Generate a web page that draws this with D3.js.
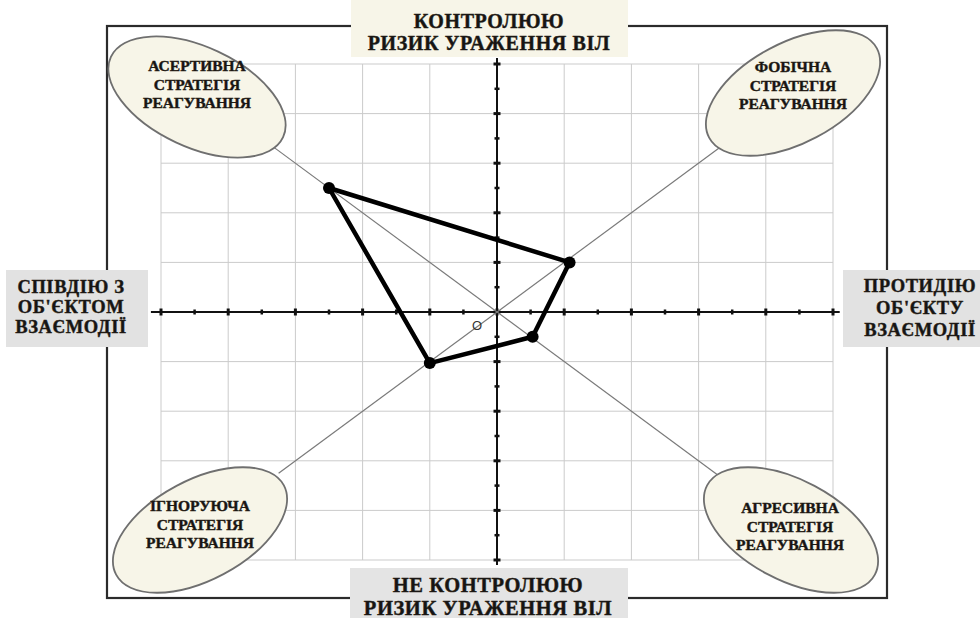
<!DOCTYPE html>
<html lang="uk">
<head>
<meta charset="UTF-8">
<title>Стратегії реагування</title>
<script src="https://cdn.jsdelivr.net/npm/d3@7/dist/d3.min.js"></script>
<style>
  body { margin: 0; background: #fff; }
  text { font-family: "Liberation Serif", "Times New Roman", serif; font-weight: bold; fill: #151515;
         stroke: #2a1f14; stroke-width: 0.45px; }
</style>
</head>
<body>
<svg id="chart" width="980" height="618"></svg>
<script>
// --- data ---
var gridSteps = d3.range(-5, 5.001, 1);          // grid lines (units)
var tickSteps = d3.range(-5, 5.001, 0.5);        // axis ticks
var profile = [                                  // polygon of the respondent
  {x: -2.5, y: 2.5},
  {x: 1.08, y: 1.0},
  {x: 0.53, y: -0.5},
  {x: -1.0, y: -1.03}
];
var diagonals = [                                // thin lines to the strategies
  {x1: -3.4, y1: 3.4, x2: 3.28, y2: -3.28},
  {x1: 3.3, y1: 3.3, x2: -3.25, y2: -3.25}
];
var strategyNames = [
  ["АСЕРТИВНА", "СТРАТЕГІЯ", "РЕАГУВАННЯ"],
  ["ФОБІЧНА", "СТРАТЕГІЯ", "РЕАГУВАННЯ"],
  ["ІГНОРУЮЧА", "СТРАТЕГІЯ", "РЕАГУВАННЯ"],
  ["АГРЕСИВНА", "СТРАТЕГІЯ", "РЕАГУВАННЯ"]
];
var axisTop = ["КОНТРОЛЮЮ", "РИЗИК УРАЖЕННЯ ВІЛ"];
var axisBottom = ["НЕ КОНТРОЛЮЮ", "РИЗИК УРАЖЕННЯ ВІЛ"];
var axisLeft = ["СПІВДІЮ З", "ОБ'ЄКТОМ", "ВЗАЄМОДІЇ"];
var axisRight = ["ПРОТИДІЮ", "ОБ'ЄКТУ", "ВЗАЄМОДІЇ"];

// --- layout ---
var svg = d3.select("#chart");
var x = d3.scaleLinear().domain([-5, 5]).range([161, 833]);
var y = d3.scaleLinear().domain([-5, 5]).range([560, 64]);

// outer frame
svg.append("rect")
  .attr("x", 107).attr("y", 26).attr("width", 780).attr("height", 572)
  .attr("fill", "none").attr("stroke", "#2b2b2b").attr("stroke-width", 2.2);

// grid
var grid = svg.append("g").attr("stroke", "#cbcbcb").attr("stroke-width", 1);
grid.selectAll(".gv").data(gridSteps).enter().append("line")
  .attr("x1", function(d){ return x(d); }).attr("x2", function(d){ return x(d); })
  .attr("y1", y(5)).attr("y2", y(-5));
grid.selectAll(".gh").data(gridSteps).enter().append("line")
  .attr("y1", function(d){ return y(d); }).attr("y2", function(d){ return y(d); })
  .attr("x1", x(-5)).attr("x2", x(5));

// axes
var axes = svg.append("g").attr("stroke", "#111");
axes.append("line").attr("x1", x(-5.15)).attr("x2", x(5.1))
  .attr("y1", y(0)).attr("y2", y(0)).attr("stroke-width", 2);
axes.append("line").attr("y1", y(5.12)).attr("y2", y(-5.1))
  .attr("x1", x(0)).attr("x2", x(0)).attr("stroke-width", 2);
axes.selectAll(".tx").data(tickSteps).enter().append("line")
  .attr("x1", function(d){ return x(d); }).attr("x2", function(d){ return x(d); })
  .attr("y1", function(d){ return y(0) - (d % 1 === 0 ? 3.5 : 2.5); })
  .attr("y2", function(d){ return y(0) + (d % 1 === 0 ? 3.5 : 2.5); })
  .attr("stroke-width", function(d){ return d % 1 === 0 ? 3 : 2.5; });
axes.selectAll(".ty").data(tickSteps).enter().append("line")
  .attr("y1", function(d){ return y(d); }).attr("y2", function(d){ return y(d); })
  .attr("x1", function(d){ return x(0) - (d % 1 === 0 ? 3.5 : 2.5); })
  .attr("x2", function(d){ return x(0) + (d % 1 === 0 ? 3.5 : 2.5); })
  .attr("stroke-width", function(d){ return d % 1 === 0 ? 3 : 2.5; });

// diagonals
svg.append("g").selectAll("line").data(diagonals).enter().append("line")
  .attr("x1", function(d){ return x(d.x1); }).attr("y1", function(d){ return y(d.y1); })
  .attr("x2", function(d){ return x(d.x2); }).attr("y2", function(d){ return y(d.y2); })
  .attr("stroke", "#7a7a7a").attr("stroke-width", 1.2);

// origin label
svg.append("text").attr("x", x(0) - 20).attr("y", y(0) + 18)
  .attr("text-anchor", "middle")
  .style("font-family", "'Liberation Sans', Arial, sans-serif")
  .style("font-weight", "normal").style("font-size", "13px").style("fill", "#333")
  .style("stroke", "none")
  .text("O");

// profile polygon
var line = d3.line().x(function(d){ return x(d.x); }).y(function(d){ return y(d.y); })
  .curve(d3.curveLinearClosed);
svg.append("path").datum(profile).attr("d", line)
  .attr("fill", "none").attr("stroke", "#000").attr("stroke-width", 4.5)
  .attr("stroke-linejoin", "round");
svg.append("g").selectAll("circle").data(profile).enter().append("circle")
  .attr("cx", function(d){ return x(d.x); }).attr("cy", function(d){ return y(d.y); })
  .attr("r", 6).attr("fill", "#000");

// strategy ellipses
var ellipsePos = [
  {cx: 197, cy: 97, rot: 25, tx: 197, ty: 71},
  {cx: 793, cy: 93, rot: -28, tx: 793, ty: 72},
  {cx: 200, cy: 530, rot: -28, tx: 200, ty: 511},
  {cx: 791, cy: 530, rot: 28, tx: 790, ty: 513}
];
var ell = svg.append("g").selectAll("g").data(strategyNames).enter().append("g");
ell.append("ellipse")
  .attr("transform", function(d, i){
    var p = ellipsePos[i];
    return "translate(" + p.cx + "," + p.cy + ") rotate(" + p.rot + ")";
  })
  .attr("rx", 95).attr("ry", 50)
  .attr("fill", "#f7f5e8").attr("stroke", "#6f6f6f").attr("stroke-width", 1.8);
ell.each(function(d, i){
  var p = ellipsePos[i];
  d3.select(this).selectAll("text").data(d).enter().append("text")
    .attr("x", p.tx).attr("y", function(t, j){ return p.ty + j * 18.5; })
    .attr("text-anchor", "middle").style("font-size", "15.5px")
    .text(function(t){ return t; });
});

// axis label boxes
function labelBox(lines, bx, by, bw, bh, fill, cx, baseline, step, size){
  var g = svg.append("g");
  g.append("rect").attr("x", bx).attr("y", by).attr("width", bw).attr("height", bh)
    .attr("fill", fill);
  g.selectAll("text").data(lines).enter().append("text")
    .attr("x", cx).attr("y", function(t, j){ return baseline + j * step; })
    .attr("text-anchor", "middle").style("font-size", size + "px")
    .style("letter-spacing", "0.6px")
    .text(function(t){ return t; });
}
labelBox(axisTop, 351, 0, 277, 57, "#f7f5e8", 489, 28, 22, 20);
labelBox(axisBottom, 350, 568, 278, 50, "#e4e4e4", 488, 592, 23, 20.5);
labelBox(axisLeft, 6, 270, 142, 77, "#e2e2e2", 71, 293, 20, 18.5);
labelBox(axisRight, 843, 270, 137, 77, "#e2e2e2", 920, 292, 22, 18.5);
</script>
</body>
</html>
